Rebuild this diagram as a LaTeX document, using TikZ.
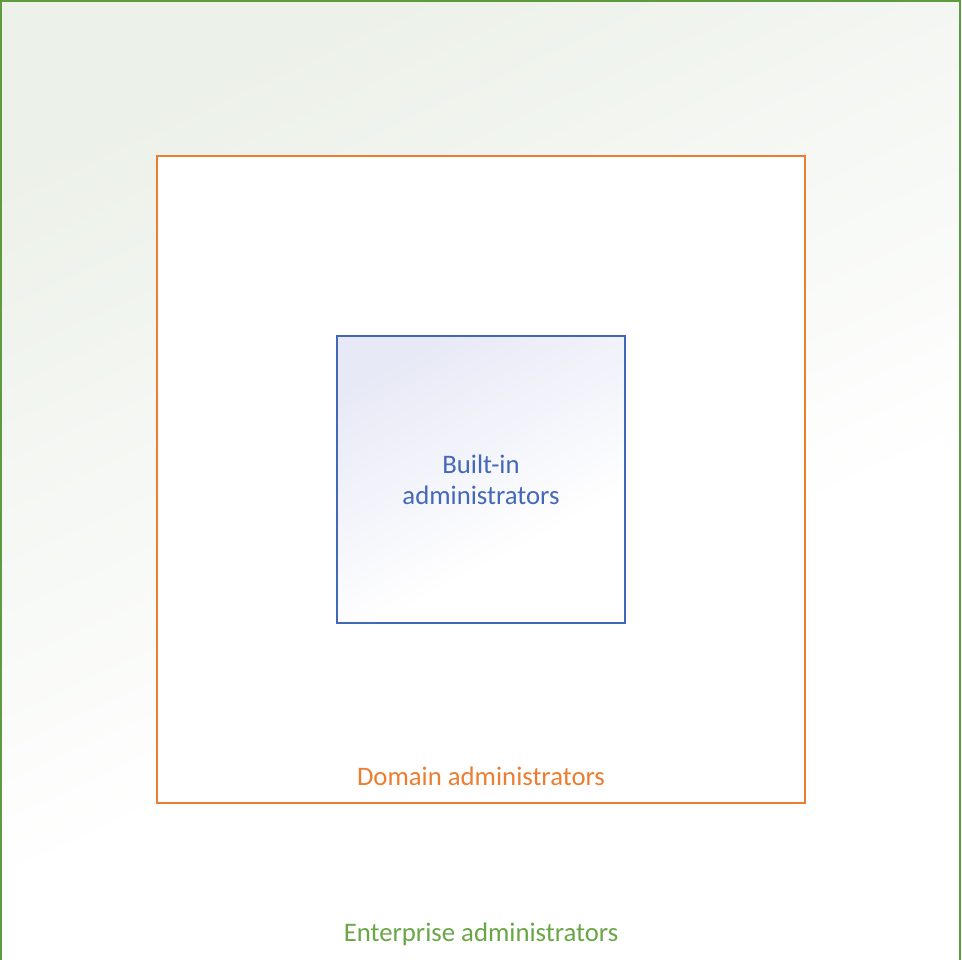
\documentclass[tikz,border=0pt]{standalone}
\usepackage{fontspec}
\setmainfont{Carlito}

\definecolor{entline}{HTML}{5E9B3E}
\definecolor{enttext}{HTML}{6AA646}
\definecolor{entfill}{HTML}{ECF1E9}
\definecolor{domline}{HTML}{ED7D31}
\definecolor{bltline}{HTML}{4468B8}
\definecolor{blttext}{HTML}{4468B8}
\definecolor{bltfill}{HTML}{E7E9F6}

% tint at the top, plain white over the lower part
\pgfdeclareverticalshading{entshade}{100bp}{color(0bp)=(white); color(42bp)=(white);
  color(75bp)=(entfill); color(100bp)=(entfill)}
\pgfdeclareverticalshading{bltshade}{100bp}{color(0bp)=(white); color(36bp)=(white);
  color(75bp)=(bltfill); color(100bp)=(bltfill)}

\tikzset{
  grouplabel/.style={font=\fontsize{7.6}{8.8}\selectfont, align=center, inner sep=0pt},
}

\begin{document}
\begin{tikzpicture}[x=0.01cm, y=-0.01cm]
  \useasboundingbox (0,0) rectangle (962,959);
  \clip (0,0) rectangle (962,959);

  % enterprise level
  \shade[shading=entshade, shading angle=25] (1,1) rectangle (960,1000);
  \draw[entline, line width=0.6pt] (1,1) rectangle (960,1000);

  % domain level
  \fill[white] (157,156) rectangle (805,803);
  \draw[domline, line width=0.45pt] (157,156) rectangle (805,803);

  % built-in level
  \shade[shading=bltshade, shading angle=28] (337,336) rectangle (625,623);
  \draw[bltline, line width=0.45pt] (337,336) rectangle (625,623);

  \node[grouplabel, text=blttext] (builtin) at (481,480) {Built-in\\administrators};
  \node[grouplabel, text=domline] (domain) at (481,776) {Domain administrators};
  \node[grouplabel, text=enttext] (enterprise) at (481,934) {Enterprise administrators};
\end{tikzpicture}
\end{document}
